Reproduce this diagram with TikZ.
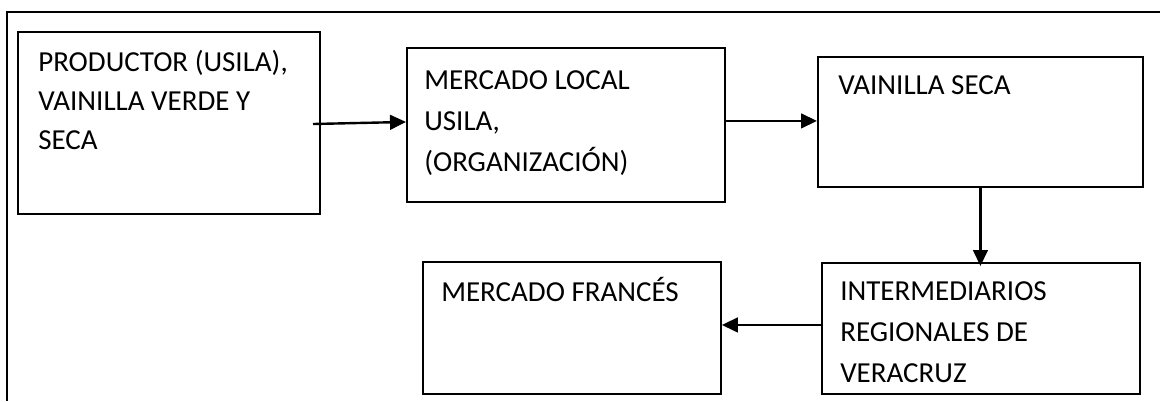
\documentclass[tikz,border=0pt]{standalone}
\usepackage{fontspec}
\setmainfont{Carlito}
\usetikzlibrary{arrows.meta}
\tikzset{
  box/.style={draw=black, line width=1.4pt, inner sep=0pt, anchor=north west, fill=none},
  lbl/.style={anchor=base west, inner sep=0pt},
  arr/.style={line width=1.8pt, -{Triangle[length=12pt, width=11pt]}},
  frame/.style={line width=1.7pt}
}
\newcommand{\boxtext}[2]{\parbox[t]{300pt}{\fontsize{21.75pt}{#1}\selectfont #2}}
\begin{document}
\begin{tikzpicture}[x=0.75pt, y=-0.75pt]
  \useasboundingbox (0,0) rectangle (1160,401);
  % outer frame
  \coordinate (fr) at (1160,12);
  \coordinate (fc) at (7,12);
  \coordinate (fb) at (7,401);
  \draw[frame] (fr) -- (fc) -- (fb);

  % boxes
  \node[box, minimum width=226.5pt, minimum height=136.5pt] (b1) at (17,31) {};
  \node[box, minimum width=238.5pt, minimum height=115.5pt] (b2) at (406,47) {};
  \node[box, minimum width=243.75pt, minimum height=97.5pt] (b3) at (817,56) {};
  \node[box, minimum width=238.5pt, minimum height=98.25pt] (b4) at (821,262) {};
  \node[box, minimum width=223.5pt, minimum height=99pt] (b5) at (422,261) {};

  % texts
  \node[lbl] (t1) at (38,71) {\boxtext{29.6pt}{PRODUCTOR (USILA),\\VAINILLA VERDE Y\\SECA}};
  \node[lbl] (t2) at (424,89) {\boxtext{30.75pt}{MERCADO LOCAL\\USILA,\\(ORGANIZACIÓN)}};
  \node[lbl] (t3) at (838,94) {\boxtext{30pt}{VAINILLA SECA}};
  \node[lbl] (t4) at (840,300) {\boxtext{31.1pt}{INTERMEDIARIOS\\REGIONALES DE\\VERACRUZ}};
  \node[lbl] (t5) at (441,301) {\boxtext{30pt}{MERCADO FRANCÉS}};

  % connectors
  \coordinate (a1s) at (313,124);
  \draw[arr] (a1s) -- ([yshift=2.25pt]b2.west);
  \draw[arr] ([yshift=3pt]b2.east) coordinate (a2s) -- (a2s -| b3.west);
  \draw[arr, shorten >=-3pt] (b3.south) -- (b3.south |- b4.north);
  \draw[arr] ([yshift=2.6pt]b4.west) coordinate (a4s) -- (a4s -| b5.east);
\end{tikzpicture}
\end{document}
